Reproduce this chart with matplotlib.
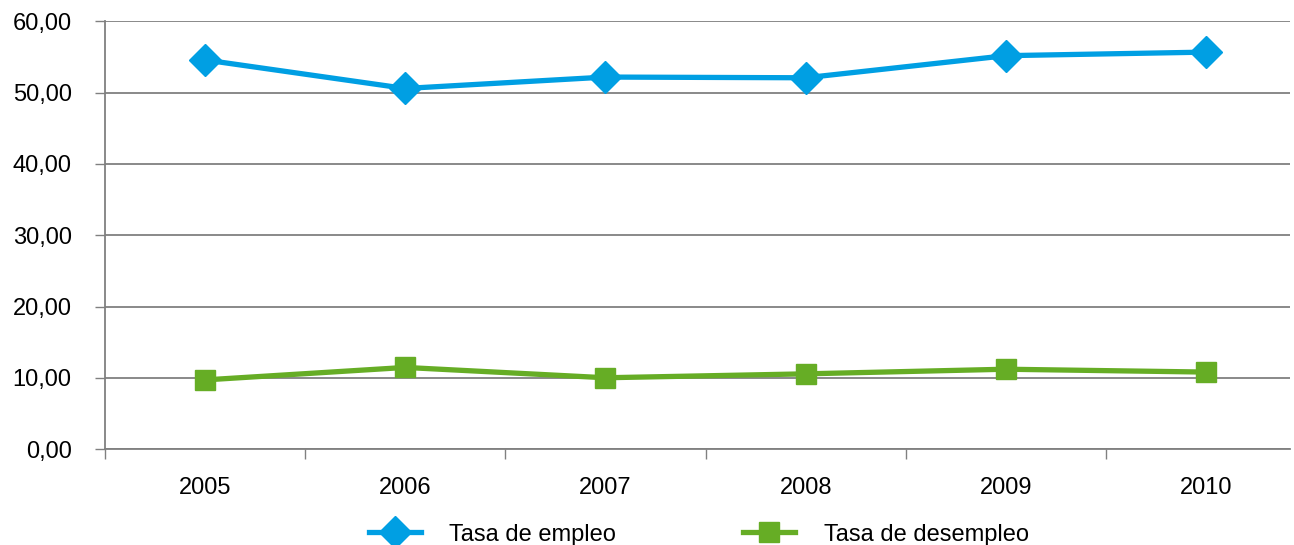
import matplotlib.pyplot as plt
from matplotlib.ticker import FuncFormatter, FixedLocator

plt.rcParams['font.family'] = ['Liberation Sans', 'DejaVu Sans']

years = ['2005', '2006', '2007', '2008', '2009', '2010']
empleo = [54.6, 50.6, 52.2, 52.1, 55.2, 55.7]
desempleo = [9.7, 11.45, 10.0, 10.55, 11.2, 10.8]

blue = '#009FE3'
green = '#66AD25'

fig = plt.figure(figsize=(12.94, 5.45), dpi=100)
ax = fig.add_axes([0.0811, 0.1761, 0.9159, 0.7845])

x = range(len(years))
ax.plot(x, empleo, color=blue, lw=3.8, marker='D', markersize=16,
        label='Tasa de empleo')
ax.plot(x, desempleo, color=green, lw=3.8, marker='s', markersize=15,
        label='Tasa de desempleo')

ax.set_xlim(-0.5, 5.42)
ax.set_ylim(0, 60)
ax.set_yticks(range(0, 61, 10))
ax.yaxis.set_major_formatter(FuncFormatter(lambda v, p: f'{v:.2f}'.replace('.', ',')))
ax.set_xticks(list(x))
ax.set_xticklabels(years)
ax.xaxis.set_minor_locator(FixedLocator([i - 0.5 for i in range(6)]))
ax.tick_params(axis='x', which='major', length=0, pad=20, labelsize=17)
ax.tick_params(axis='x', which='minor', length=7, width=1, color='#808080')
ax.tick_params(axis='y', length=7, width=1, color='#808080', labelsize=17, pad=17)

ax.grid(axis='y', color='#808080', lw=1.3)
ax.set_axisbelow(True)
for s in ['top', 'right']:
    ax.spines[s].set_visible(False)
for s in ['left', 'bottom']:
    ax.spines[s].set_color('#808080')
    ax.spines[s].set_linewidth(1.3)

fig.legend(loc='lower center', bbox_to_anchor=(0.54, -0.04), ncol=2,
           frameon=False, fontsize=17, handlelength=2.2, handletextpad=1.2,
           columnspacing=5.4)

fig.savefig('out.png', dpi=100)
